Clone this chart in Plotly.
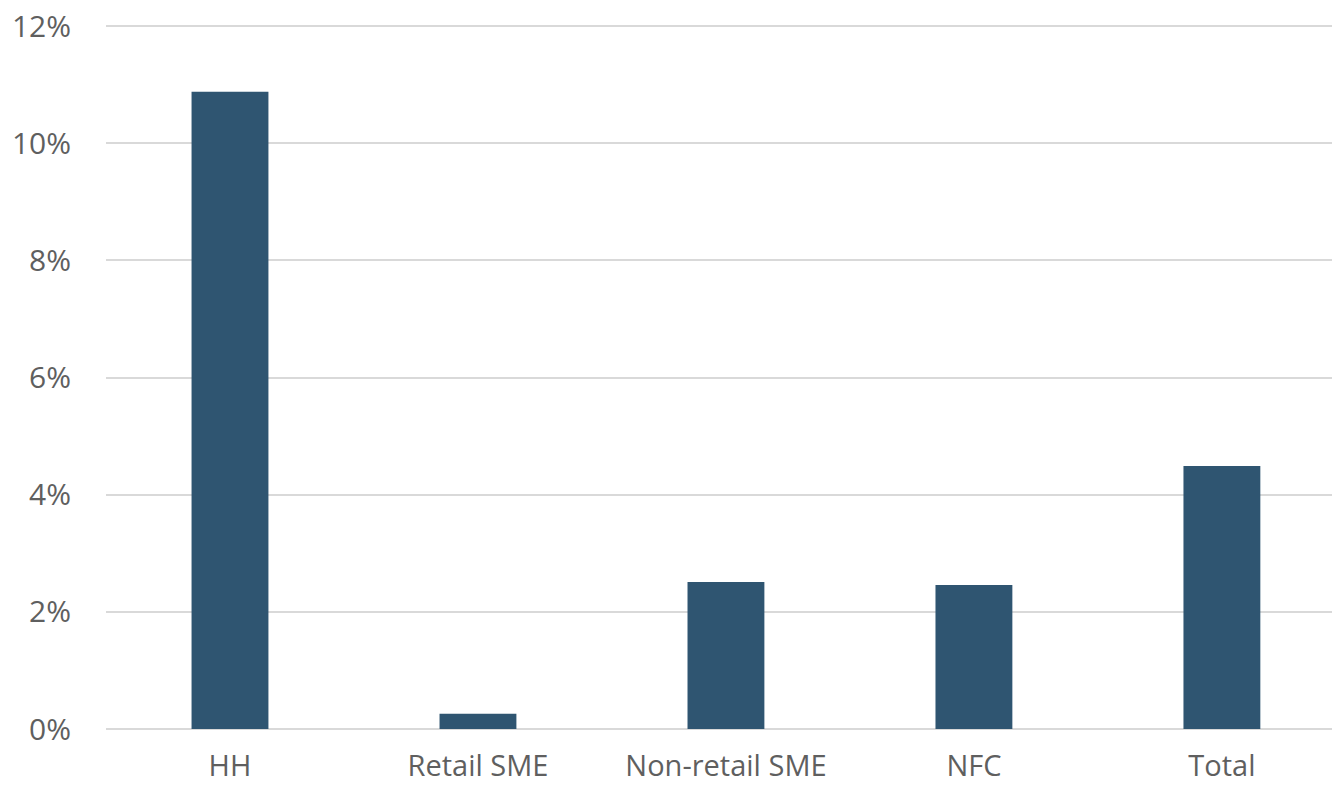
import plotly.graph_objects as go

categories = ["HH", "Retail SME", "Non-retail SME", "NFC", "Total"]
values = [10.88, 0.26, 2.51, 2.46, 4.49]
y_ticks = [0, 2, 4, 6, 8, 10, 12]
y_tick_labels = [f"{v}%" for v in y_ticks]

fig = go.Figure(
    go.Bar(
        x=categories,
        y=values,
        marker=dict(color="#2F5571", line=dict(width=0)),
        width=0.31,
    )
)

fig.update_layout(
    width=1332,
    height=787,
    margin=dict(l=106, r=0, t=25, b=58),
    paper_bgcolor="white",
    plot_bgcolor="white",
    showlegend=False,
    font=dict(family="Open Sans", size=30, color="#5f5f5f"),
)
fig.update_xaxes(
    range=[-0.5, 4.444],
    showgrid=False,
    showline=False,
    ticks="",
    automargin=False,
    ticklabelstandoff=17,
    ticklabeloverflow="allow",
    tickfont=dict(size=29, color="#5f5f5f"),
)
fig.update_yaxes(
    range=[0, 12.02],
    tickvals=y_ticks,
    ticktext=y_tick_labels,
    showgrid=True,
    gridcolor="#d9d9d9",
    gridwidth=2,
    zeroline=True,
    zerolinecolor="#d9d9d9",
    zerolinewidth=2,
    showline=False,
    ticks="",
    automargin=False,
    ticklabelstandoff=34,
    ticklabeloverflow="allow",
    tickfont=dict(size=30, color="#5f5f5f"),
)

fig.write_html(
    "out.html",
    config={"displayModeBar": False},
    post_script="document.body.style.margin='0';document.body.style.overflow='hidden';",
)
